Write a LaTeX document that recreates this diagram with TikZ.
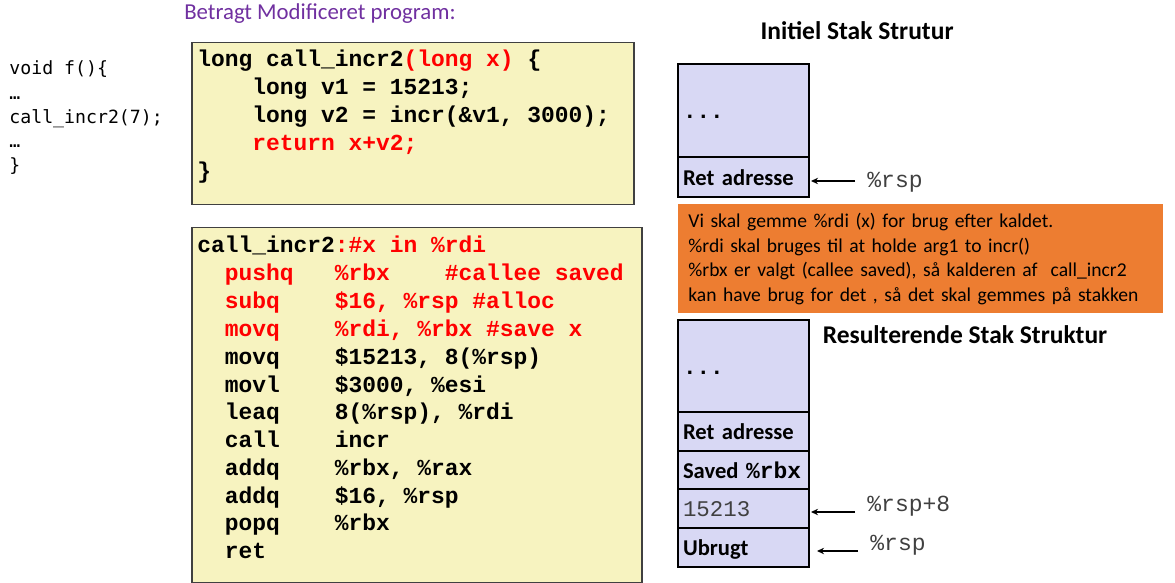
\documentclass[tikz,border=0pt]{standalone}
\usepackage{fontspec}
\setmainfont{Carlito}
\setmonofont{Liberation Mono}
\newfontfamily\leftmono{DejaVu Sans Mono}
\usetikzlibrary{arrows.meta,positioning}

\definecolor{codefill}{RGB}{247,243,192}
\definecolor{stackfill}{RGB}{216,216,244}
\definecolor{notefill}{RGB}{237,125,49}
\definecolor{titlepurple}{RGB}{112,48,160}
\definecolor{codered}{RGB}{255,0,0}

\begin{document}
\begin{tikzpicture}[x=0.5pt,y=-0.5pt,>={Stealth[length=3.5pt,width=3.2pt]},
    every node/.append style={align=left},
    codebox/.style={draw=black!75, line width=0.75pt, fill=codefill, anchor=north west, inner sep=0pt},
    codeline/.style={anchor=mid west, inner sep=0pt, font=\fontsize{11.46}{14}\selectfont\ttfamily\bfseries\frenchspacing},
    leftcode/.style={anchor=base west, inner sep=0pt, font=\fontsize{9.1}{12}\selectfont\leftmono},
    cell/.style={draw, line width=1pt, fill=stackfill, minimum width=65.5pt, text width=60.5pt,
                 inner xsep=2.5pt, inner ysep=0pt, outer sep=0pt, text height=10.5pt, text depth=2.1pt,
                 font=\fontsize{11.3}{13.6}\selectfont\bfseries},
    regmono/.style={anchor=mid west, inner sep=0pt, text=black!75, font=\fontsize{11.5}{14}\selectfont\ttfamily},
    stacktitle/.style={font=\fontsize{12.75}{15}\selectfont\bfseries, inner sep=0pt},
    note/.style={fill=notefill, anchor=north west, minimum width=242.5pt, minimum height=54.5pt,
                 text width=232.5pt, inner xsep=5pt, font=\fontsize{9.8}{12.35}\selectfont}]
    \useasboundingbox (0,0) rectangle (1175,583);

    % caller
    \foreach \txt [count=\i from 0] in {void f()\{, …, call\_incr2(7);, …, \}}
        \node[leftcode] (caller\i) at (9,75+24.2*\i) {\txt};

    % C source
    \node[text=titlepurple, font=\fontsize{11.4}{14}\selectfont, inner sep=0pt] (heading) at (320,14) {Betragt Modificeret program:};
    \node[codebox, minimum width=221pt, minimum height=81pt] (csrc) at (191,42) {};
    \node[codeline] (c1) at (197,62)  {long call\_incr2\textcolor{codered}{(long~x)} \{};
    \node[codeline] (c2) at (197,90)  {~~~~long v1 = 15213;};
    \node[codeline] (c3) at (197,118) {~~~~long v2 = incr(\&v1, 3000);};
    \node[codeline, text=codered] (c4) at (197,146) {~~~~return x+v2;};
    \node[codeline] (c5) at (197,174) {\}};

    % assembly
    \node[codebox, minimum width=225pt, minimum height=177.5pt] (asm) at (191,227) {};
    \node[codeline] (a1)  at (197,247.5) {call\_incr2\textcolor{codered}{:\#x in \%rdi}};
    \node[codeline, text=codered] (a2)  at (197,275.5) {~~pushq~~~\%rbx~~~~\#callee saved};
    \node[codeline, text=codered] (a3)  at (197,303.5) {~~subq~~~~\$16, \%rsp \#alloc};
    \node[codeline, text=codered] (a4)  at (197,331.5) {~~movq~~~~\%rdi, \%rbx \#save x};
    \node[codeline] (a5)  at (197,359.5) {~~movq~~~~\$15213, 8(\%rsp)};
    \node[codeline] (a6)  at (197,387.5) {~~movl~~~~\$3000, \%esi};
    \node[codeline] (a7)  at (197,414.5) {~~leaq~~~~8(\%rsp), \%rdi};
    \node[codeline] (a8)  at (197,442.5) {~~call~~~~incr};
    \node[codeline] (a9)  at (197,470.5) {~~addq~~~~\%rbx, \%rax};
    \node[codeline] (a10) at (197,498.5) {~~addq~~~~\$16, \%rsp};
    \node[codeline] (a11) at (197,525.5) {~~popq~~~~\%rbx};
    \node[codeline] (a12) at (197,553.5) {~~ret};

    % initial stack
    \node[stacktitle] (inittitle) at (857,31) {Initiel Stak Strutur};
    \node[cell, anchor=north west, minimum height=46.5pt] (dots1) at (678,64) {\ttfamily ...};
    \node[cell, below=0pt of dots1, minimum height=20pt] (ret1) {Ret adresse};
    \coordinate (tail1) at (855,181);
    \node[regmono] (rsp1) at (867,183) {\%rsp};
    \draw[->, line width=0.75pt, shorten >=1pt] (tail1) -- (tail1 -| ret1.east);

    % why rbx
    \node[note] (why) at (678,204) {Vi skal gemme \%rdi (x) for brug efter kaldet.\\
        \%rdi skal bruges til at holde arg1 to incr()\\
        \%rbx er valgt (callee saved), så kalderen af\ \ call\_incr2\\
        kan have brug for det , så det skal gemmes på stakken};

    % resulting stack
    \node[stacktitle] (restitle) at (965,335) {Resulterende Stak Struktur};
    \node[cell, anchor=north west, minimum height=46pt] (dots2) at (678,320) {\ttfamily ...};
    \node[cell, below=0pt of dots2, minimum height=19.25pt] (ret2) {Ret adresse};
    \node[cell, below=0pt of ret2, minimum height=19.25pt] (saved2) {Saved {\ttfamily\fontsize{11.46}{14}\selectfont\%rbx}};
    \node[cell, below=0pt of saved2, minimum height=19.5pt, font=\fontsize{11.2}{13.6}\selectfont\ttfamily, text=black!75] (val2) {15213};
    \node[cell, below=0pt of val2, minimum height=19.5pt] (unused2) {Ubrugt};
    \coordinate (tail2) at (855,512);
    \node[regmono] (rsp8) at (867,507) {\%rsp+8};
    \draw[->, line width=0.75pt, shorten >=1pt] (tail2) -- (tail2 -| val2.east);
    \coordinate (tail3) at (858,551);
    \node[regmono] (rsp2) at (870,546) {\%rsp};
    \draw[->, line width=0.75pt, shorten >=4pt] (tail3) -- (tail3 -| unused2.east);
\end{tikzpicture}
\end{document}
